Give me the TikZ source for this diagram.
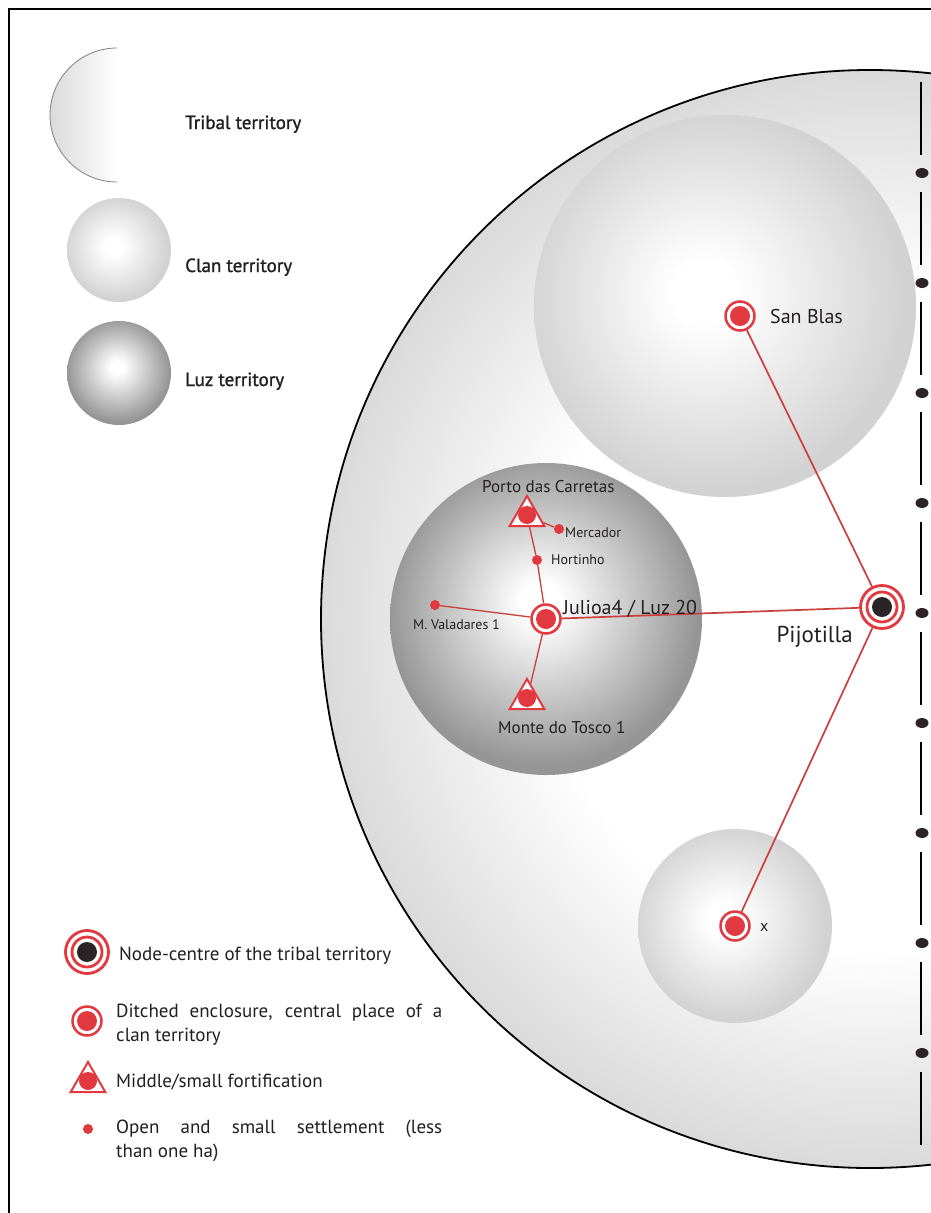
\documentclass[tikz,border=0pt]{standalone}
\usepackage{fontspec}
\setmainfont{PT Sans}
\newfontfamily\legendfont[FakeBold=1.2]{PT Sans}
\usetikzlibrary{shapes.geometric}
\definecolor{sitered}{HTML}{E1393F}
\definecolor{linkred}{HTML}{C9403C}
\definecolor{nodeblack}{HTML}{2B2326}
\definecolor{textblack}{HTML}{231F20}
\definecolor{tribalgrey}{HTML}{DADADA}
\definecolor{clangrey}{HTML}{D2D2D2}
\definecolor{luzgrey}{HTML}{959595}
\pgfdeclareradialshading{tribalshade}{\pgfpoint{0bp}{0bp}}{color(0bp)=(white); color(15bp)=(white); color(25bp)=(tribalgrey); color(50bp)=(tribalgrey)}
\pgfdeclareradialshading{clanshade}{\pgfpoint{-3bp}{2bp}}{color(0bp)=(white); color(4bp)=(white); color(25bp)=(clangrey); color(50bp)=(clangrey)}
\pgfdeclareradialshading{luzshade}{\pgfpoint{-1bp}{3bp}}{color(0bp)=(white); color(3bp)=(white); color(25bp)=(luzgrey); color(50bp)=(luzgrey)}
\begin{document}
\begin{tikzpicture}[x=1pt, y=-1pt,
  every node/.style={text=textblack},
  link/.style={draw=linkred, line width=1.7pt},
  tribalnode/.style={circle, draw=sitered, fill=white, line width=2.8pt, minimum size=43pt, inner sep=0pt,
    path picture={\draw[sitered, line width=2.8pt] (path picture bounding box.center) circle (15pt);
      \fill[nodeblack] (path picture bounding box.center) circle (10pt);}},
  ditchnode/.style={circle, draw=sitered, fill=white, line width=2.5pt, minimum size=29pt, inner sep=0pt,
    path picture={\fill[sitered] (path picture bounding box.center) circle (10pt);}},
  fortnode/.style={regular polygon, regular polygon sides=3, draw=sitered, fill=white, line width=2pt,
    minimum size=40pt, inner sep=0pt,
    path picture={\fill[sitered] ([yshift=-4pt]path picture bounding box.center) circle (9pt);}},
  opennode/.style={circle, fill=sitered, minimum size=10pt, inner sep=0pt},
  lbl/.style={anchor=base west, inner sep=0pt},
  keytext/.style={anchor=base west, inner sep=0pt, text width=326pt, align=justify,
    font=\fontsize{19}{24}\selectfont}]
\useasboundingbox[fill=white] (0,0) rectangle (931,1213);

% territories
\shade[shading=tribalshade, draw=black, line width=1.8pt] (870,619) circle (549pt);
\shade[shading=clanshade] (725,306) circle (191pt);
\shade[shading=clanshade] (735,926) circle (97pt);
\shade[shading=luzshade] (546,619) circle (156pt);

% frame
\draw[line width=2.8pt] (945,9) -- (9,9) -- (9,1225);

% boundary line
\draw[line width=1.5pt, dash pattern=on 73pt off 37pt] (921,82) -- (921,1147);
\foreach \y in {173,283,...,1053}
  \fill[nodeblack] (922,\y) ellipse [x radius=6.5pt, y radius=5pt];

% legend territories
\shade[left color=tribalgrey, right color=white] (117,48) arc[start angle=90, end angle=270, radius=67pt] -- cycle;
\draw[gray, line width=0.8pt] (117,48) arc[start angle=90, end angle=270, radius=67pt];
\shade[shading=clanshade] (119,250) circle (52pt);
\shade[shading=luzshade] (119,373) circle (52pt);
\node[lbl, font=\legendfont\fontsize{19}{19}\selectfont] (keytribal) at (185,129) {Tribal territory};
\node[lbl, font=\legendfont\fontsize{19}{19}\selectfont] (keyclan) at (185,272) {Clan territory};
\node[lbl, font=\legendfont\fontsize{19}{19}\selectfont] (keyluz) at (185,386) {Luz territory};

% sites
\node[tribalnode] (pijotilla) at (882,607) {};
\node[ditchnode] (sanblas) at (740,316) {};
\node[ditchnode] (julioa) at (546,619) {};
\node[ditchnode] (xsite) at (735,926) {};
\node[fortnode] (porto) at (527,516) {};
\node[fortnode] (monte) at (527,699) {};
\node[opennode] (mercador) at (559,529) {};
\node[opennode] (hortinho) at (537,560) {};
\node[opennode] (valadares) at (435,605) {};

\draw[link] (pijotilla) -- (sanblas);
\draw[link] (pijotilla) -- (julioa);
\draw[link] (pijotilla) -- (xsite);
\draw[link, line width=1.3pt] (julioa) -- (hortinho);
\draw[link, line width=1.3pt] (hortinho) -- (porto);
\draw[link, line width=1.3pt] (porto) -- (mercador);
\draw[link, line width=1.3pt] (julioa) -- (valadares);
\draw[link, line width=1.3pt] (julioa) -- (monte);

% site names
\node[lbl, font=\fontsize{23}{23}\selectfont, anchor=base east] (pijotillaname) at (853,642) {Pijotilla};
\node[lbl, font=\fontsize{20}{20}\selectfont] (sanblasname) at (770,323) {San Blas};
\node[lbl, font=\fontsize{20}{20}\selectfont] (julioaname) at (563,614) {Julioa4 / Luz 20};
\node[lbl, font=\fontsize{16}{16}\selectfont] (xname) at (760,931) {x};
\node[lbl, font=\fontsize{17}{17}\selectfont] (portoname) at (482,492) {Porto das Carretas};
\node[lbl, font=\fontsize{17}{17}\selectfont] (montename) at (498,733) {Monte do Tosco 1};
\node[lbl, font=\fontsize{14}{14}\selectfont] (mercadorname) at (565,537) {Mercador};
\node[lbl, font=\fontsize{14}{14}\selectfont] (hortinhoname) at (551,564) {Hortinho};
\node[lbl, font=\fontsize{14}{14}\selectfont] (valadaresname) at (413,629) {M. Valadares 1};

% legend sites
\node[tribalnode] (keynode) at (87,952) {};
\node[ditchnode] (keyditch) at (87,1021) {};
\node[fortnode] (keyfort) at (88,1082) {};
\node[opennode] (keyopen) at (88,1129) {};
\node[lbl, font=\fontsize{19}{19}\selectfont] (keynodetext) at (119,960) {Node-centre of the tribal territory};
\node[keytext] (keyditchtext) at (116,1017) {Ditched enclosure, central place of a\linebreak clan territory};
\node[lbl, font=\fontsize{19}{19}\selectfont] (keyforttext) at (116,1087) {Middle/small fortification};
\node[keytext] (keyopentext) at (116,1133) {Open and small settlement (less\linebreak than one ha)};
\end{tikzpicture}
\end{document}
